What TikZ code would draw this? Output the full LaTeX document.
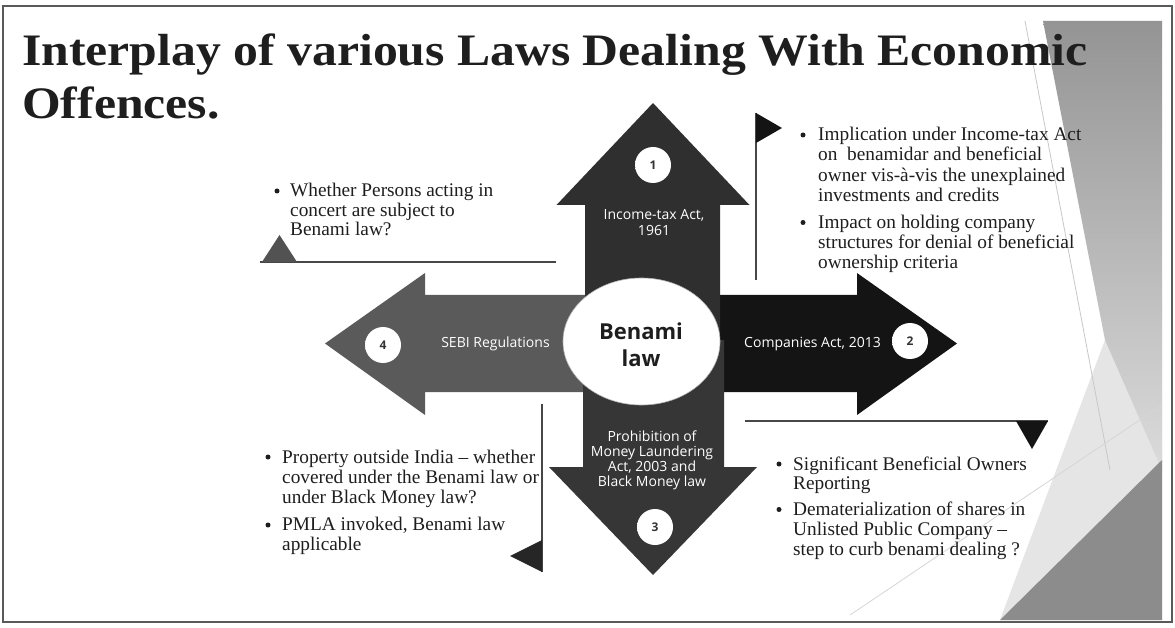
\documentclass[tikz,border=0pt]{standalone}
\usepackage{fontspec}
\setmainfont{Liberation Serif}
\newfontfamily\titlefont{Liberation Serif}[FakeStretch=1.105]
\newfontfamily\bodyfont{Liberation Serif}
\newfontfamily\labelfont{Open Sans}
\definecolor{upc}{HTML}{2F2F2F}
\definecolor{rightc}{HTML}{141414}
\definecolor{downc}{HTML}{363636}
\definecolor{leftc}{HTML}{5A5A5A}
\definecolor{txt}{HTML}{1E1E1E}
\pgfdeclareradialshading{numglow}{\pgfpoint{0bp}{0bp}}{color(0bp)=(white); color(31bp)=(white); color(50bp)=(black!50)}
\begin{document}
\begin{tikzpicture}[x=1pt,y=-1pt,
  body/.style={font=\bodyfont\fontsize{19.3}{20}\selectfont, anchor=base west, inner sep=0pt, text=txt},
  bul/.style={circle, fill=txt, inner sep=0pt, minimum size=5pt},
  lbl/.style={font=\labelfont\fontsize{14}{15}\selectfont, text=white, inner sep=0pt, anchor=base},
  num/.style={circle, shading=numglow, minimum size=36pt, inner sep=0pt, font=\labelfont\bfseries\fontsize{12}{12}\selectfont, text=black!80},
  callline/.style={draw=black!72, line width=1.3pt},
  ttl/.style={font=\titlefont\bfseries\fontsize{45}{53}\selectfont, anchor=base west, inner sep=0pt, text=txt},
  mid/.style={font=\labelfont\bfseries\fontsize{22}{26}\selectfont, anchor=base, inner sep=0pt, text=txt}
]
\useasboundingbox (0,0) rectangle (1175,628);
\fill[white] (0,0) rectangle (1175,628);

% background decoration on the right
\fill[gray!20] (1105,340) -- (1162,300) -- (1162,620) -- (1000,620) -- cycle;
\shade[top color=black!42, bottom color=black!14] (1043,21) -- (1162,21) -- (1162,470) -- (1105,340) -- cycle;
\fill[black!45] (1000,620) -- (1162,620) -- (1162,460) -- cycle;
\draw[black!22, line width=0.8pt] (1025,21) -- (1110,470);
\draw[black!16, line width=0.8pt] (850,615) -- (1162,405);

% title
\node[ttl] (title1) at (22,66) {Interplay of various Laws Dealing With Economic};
\node[ttl] (title2) at (22,119) {Offences.};

% arrows
\fill[leftc] (325,343.5) -- (425,273) -- (425,295) -- (650,295) -- (650,392) -- (425,392) -- (425,415) -- cycle;
\fill[rightc] (957,343.5) -- (857,273) -- (857,295) -- (640,295) -- (640,392) -- (857,392) -- (857,415) -- cycle;
\fill[upc] (653,103) -- (749.5,205) -- (720,205) -- (720,345) -- (585,345) -- (585,205) -- (556.5,205) -- cycle;
\fill[downc] (653,575) -- (757,467) -- (724,467) -- (724,340) -- (583,340) -- (583,467) -- (549,467) -- cycle;

% center ellipse
\fill[white] (641.5,341.5) ellipse [x radius=78.5, y radius=63.5];
\draw[black!30, line width=0.6pt] (641.5,341.5) ellipse [x radius=78.5, y radius=63.5];
\node[mid] (benami1) at (641,339) {Benami};
\node[mid] (benami2) at (641,366) {law};

% arrow labels
\node[lbl] (it1) at (654,220) {Income-tax Act,};
\node[lbl] (it2) at (654,235.5) {1961};
\node[lbl] (sebi) at (495.5,347) {SEBI Regulations};
\node[lbl] (comp) at (812.5,347) {Companies Act, 2013};
\node[lbl] (pm1) at (652,441) {Prohibition of};
\node[lbl] (pm2) at (652,456) {Money Laundering};
\node[lbl] (pm3) at (652,471) {Act, 2003 and};
\node[lbl] (pm4) at (652,486) {Black Money law};

% number circles
\node[num] (n1) at (653,165) {1};
\node[num] (n2) at (910,341) {2};
\node[num] (n3) at (655,527) {3};
\node[num] (n4) at (383,345) {4};

% callout 1 (top left)
\coordinate (c1a) at (260,262);
\coordinate (c1b) at (556,262);
\draw[callline] (c1a) -- (c1b);
\fill[black!68] (262,262) -- (297,262) -- (279.5,235) -- cycle;
\node[bul] (b1) at (277,191) {};
\node[body] (l1a) at (290,197) {Whether Persons acting in};
\node[body] (l1b) at (290,216.5) {concert are subject to};
\node[body] (l1c) at (290,236) {Benami law?};

% callout 2 (top right)
\coordinate (c2a) at (756,113);
\coordinate (c2b) at (756,280);
\draw[callline] (c2a) -- (c2b);
\fill[rightc] (756,113) -- (782,128) -- (756,143) -- cycle;
\node[bul] (b2) at (803,135) {};
\node[bul] (b3) at (803,222.5) {};
\node[body] (l2a) at (818,140.7) {Implication under Income-tax Act};
\node[body] (l2b) at (818,161) {on\ \ benamidar and beneficial};
\node[body] (l2c) at (818,181.5) {owner vis-à-vis the unexplained};
\node[body] (l2d) at (818,201.7) {investments and credits};
\node[body] (l3a) at (818,228.3) {Impact on holding company};
\node[body] (l3b) at (818,248.3) {structures for denial of beneficial};
\node[body] (l3c) at (818,268.3) {ownership criteria};

% callout 3 (bottom left)
\coordinate (c3a) at (542,404);
\coordinate (c3b) at (542,572);
\draw[callline] (c3a) -- (c3b);
\fill[black!85] (542,540) -- (542,572) -- (510,556) -- cycle;
\node[bul] (b4) at (268,457) {};
\node[bul] (b5) at (268,525) {};
\node[body] (l4a) at (282,463) {Property outside India – whether};
\node[body] (l4b) at (282,483) {covered under the Benami law or};
\node[body] (l4c) at (282,503) {under Black Money law?};
\node[body] (l5a) at (282,530.7) {PMLA invoked, Benami law};
\node[body] (l5b) at (282,550.5) {applicable};

% callout 4 (bottom right)
\coordinate (c4a) at (745,421);
\coordinate (c4b) at (1048,421);
\draw[callline] (c4a) -- (c4b);
\fill[rightc] (1016,421) -- (1048,421) -- (1032,449) -- cycle;
\node[bul] (b6) at (779,464) {};
\node[bul] (b7) at (779,509.5) {};
\node[body] (l6a) at (793,470) {Significant Beneficial Owners};
\node[body] (l6b) at (793,489.5) {Reporting};
\node[body] (l7a) at (793,515) {Dematerialization of shares in};
\node[body] (l7b) at (793,535) {Unlisted Public Company –};
\node[body] (l7c) at (793,555) {step to curb benami dealing ?};

% frame
\draw[black!65, line width=1.5pt] (3,6) rectangle (1172,622);
\end{tikzpicture}
\end{document}
